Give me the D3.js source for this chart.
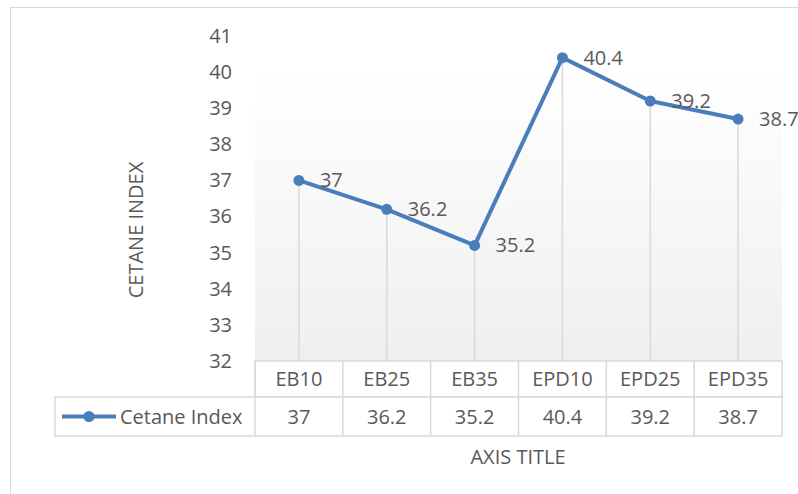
<!DOCTYPE html>
<html>
<head>
<meta charset="utf-8">
<script src="https://cdn.jsdelivr.net/npm/d3@7"></script>
<style>
  body { margin: 0; background: #fff; }
  text { font-family: "Open Sans", "Noto Sans", sans-serif; fill: #595959; }
</style>
</head>
<body>
<div id="chart"></div>
<script>
const categories = ["EB10", "EB25", "EB35", "EPD10", "EPD25", "EPD35"];
const cetaneIndex = [37, 36.2, 35.2, 40.4, 39.2, 38.7];
const yTicks = [32, 33, 34, 35, 36, 37, 38, 39, 40, 41];
const seriesName = "Cetane Index";

const W = 798, H = 494;
const plot = { left: 255, right: 782, top: 36, bottom: 361 };
const rowH = { head: 36, val: 39 };
const blue = "#4a7ebb", grid = "#d9d9d9";

const svg = d3.select("#chart").append("svg")
    .attr("width", W).attr("height", H);

// outer chart border
svg.append("rect")
    .attr("x", 10.5).attr("y", 7.5)
    .attr("width", W).attr("height", H)
    .attr("fill", "#fff").attr("stroke", grid);

let defs = svg.append("defs");
let grad = defs.append("linearGradient")
    .attr("id", "plotFill").attr("x1", 0).attr("y1", 0).attr("x2", 0).attr("y2", 1);
grad.append("stop").attr("offset", "0%").attr("stop-color", "#ffffff");
grad.append("stop").attr("offset", "100%").attr("stop-color", "#efefef");

let x = d3.scaleBand().domain(categories).range([plot.left, plot.right]);
let y = d3.scaleLinear().domain([32, 41]).range([plot.bottom, plot.top]);

svg.append("rect")
    .attr("x", plot.left).attr("y", 72)
    .attr("width", plot.right - plot.left).attr("height", plot.bottom - 72)
    .attr("fill", "url(#plotFill)");

let cx = d => x(d) + x.bandwidth() / 2;

// y axis labels
let yAxis = svg.append("g")
    .attr("transform", "translate(" + (plot.left - 20) + ",0)")
    .call(d3.axisLeft(y).tickValues(yTicks).tickSize(0).tickPadding(3));
yAxis.select(".domain").remove();
yAxis.selectAll("text")
    .style("font-size", "20px").style("fill", "#595959")
    .style("font-family", "'Open Sans', sans-serif");

// y title
svg.append("text")
    .attr("transform", "translate(143,230) rotate(-90)")
    .attr("text-anchor", "middle")
    .style("font-size", "20px")
    .text("CETANE INDEX");

// drop lines
svg.selectAll(".drop")
    .data(categories)
    .enter().append("line")
    .attr("class", "drop")
    .attr("x1", d => cx(d)).attr("x2", d => cx(d))
    .attr("y1", (d, i) => y(cetaneIndex[i])).attr("y2", plot.bottom)
    .attr("stroke", grid).attr("stroke-width", 1.5);

// line + markers
let pts = categories.map((c, i) => ({ c: c, v: cetaneIndex[i] }));
let line = d3.line().x(d => cx(d.c)).y(d => y(d.v));
svg.append("path")
    .attr("d", line(pts))
    .attr("fill", "none").attr("stroke", blue)
    .attr("stroke-width", 4).attr("stroke-linejoin", "round");
svg.selectAll(".pt")
    .data(pts)
    .enter().append("circle")
    .attr("cx", d => cx(d.c)).attr("cy", d => y(d.v))
    .attr("r", 5.5).attr("fill", blue);

// data labels
svg.selectAll(".lbl")
    .data(pts)
    .enter().append("text")
    .attr("x", d => cx(d.c) + 21).attr("y", d => y(d.v))
    .attr("dy", "0.35em")
    .style("font-size", "20px")
    .text(d => d.v);

// data table
let tbl = svg.append("g").attr("fill", "none").attr("stroke", grid).attr("stroke-width", 1.5);
let t0 = plot.bottom, t1 = t0 + rowH.head, t2 = t1 + rowH.val;
let legendLeft = 55;
tbl.append("rect").attr("x", plot.left).attr("y", t0).attr("width", plot.right - plot.left).attr("height", rowH.head).attr("fill", "#fff");
tbl.append("rect").attr("x", legendLeft).attr("y", t1).attr("width", plot.right - legendLeft).attr("height", rowH.val).attr("fill", "#fff");
tbl.selectAll(".col")
    .data(categories.slice(1))
    .enter().append("line")
    .attr("x1", d => x(d)).attr("x2", d => x(d))
    .attr("y1", t0).attr("y2", t2);
tbl.append("line").attr("x1", plot.left).attr("x2", plot.left).attr("y1", t0).attr("y2", t2);

svg.selectAll(".cat")
    .data(categories)
    .enter().append("text")
    .attr("x", d => cx(d)).attr("y", (t0 + t1) / 2)
    .attr("dy", "0.35em").attr("text-anchor", "middle")
    .style("font-size", "20px")
    .text(d => d);
svg.selectAll(".val")
    .data(pts)
    .enter().append("text")
    .attr("x", d => cx(d.c)).attr("y", (t1 + t2) / 2)
    .attr("dy", "0.35em").attr("text-anchor", "middle")
    .style("font-size", "20px")
    .text(d => d.v);

// legend key in table
let ly = (t1 + t2) / 2;
svg.append("line")
    .attr("x1", 62).attr("x2", 116).attr("y1", ly).attr("y2", ly)
    .attr("stroke", blue).attr("stroke-width", 4);
svg.append("circle").attr("cx", 89).attr("cy", ly).attr("r", 5.5).attr("fill", blue);
svg.append("text")
    .attr("x", 120).attr("y", ly).attr("dy", "0.35em")
    .style("font-size", "20px")
    .text(seriesName);

// x title
svg.append("text")
    .attr("x", 518).attr("y", 457).attr("dy", "0.35em")
    .attr("text-anchor", "middle")
    .style("font-size", "20px")
    .text("AXIS TITLE");
</script>
</body>
</html>
